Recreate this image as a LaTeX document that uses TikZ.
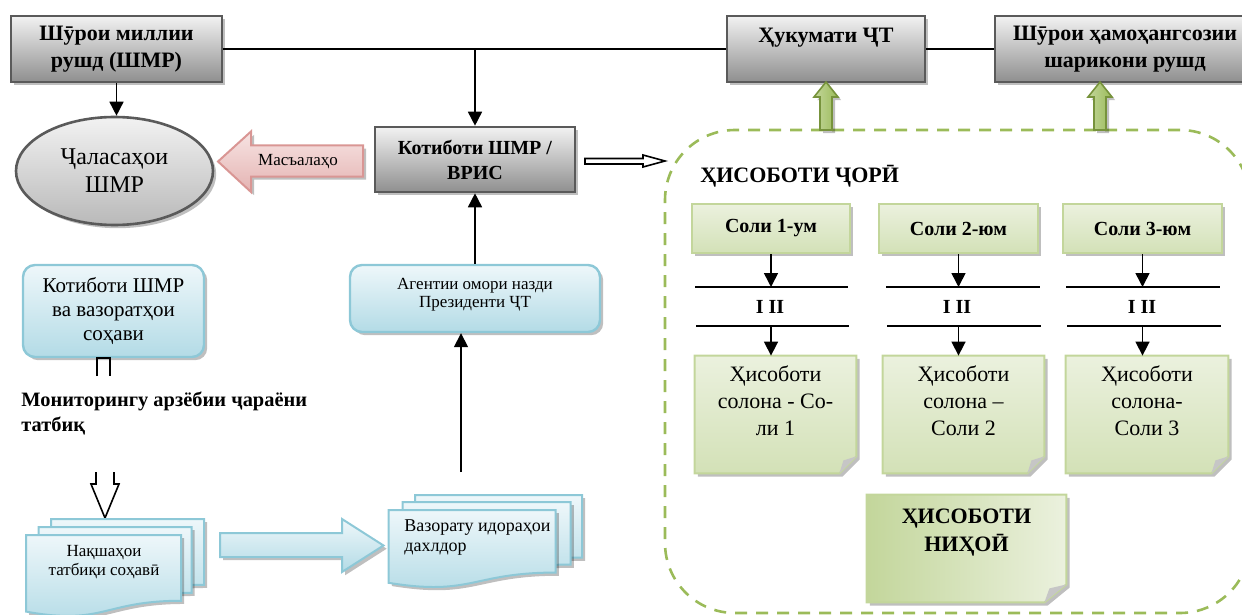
\documentclass[tikz,border=0pt]{standalone}
\usepackage{fontspec}
\setmainfont{Liberation Serif}
\usetikzlibrary{shapes.geometric,arrows.meta,shadows,backgrounds}
\definecolor{grLight}{HTML}{F2F2F2}
\definecolor{grDark}{HTML}{8F8F8F}
\definecolor{grLine}{HTML}{5A5A5A}
\definecolor{bLight}{HTML}{EEF7FA}
\definecolor{bMid}{HTML}{B3DBE6}
\definecolor{bLine}{HTML}{8DC8D7}
\definecolor{pLight}{HTML}{F7E4E3}
\definecolor{pMid}{HTML}{E4B3B2}
\definecolor{pLine}{HTML}{D99694}
\definecolor{gLight}{HTML}{EBF1DE}
\definecolor{gMid}{HTML}{D3E1B7}
\definecolor{gDark}{HTML}{C3D69B}
\definecolor{gLine}{HTML}{9BBB59}
\definecolor{gDeep}{HTML}{77933C}
\tikzset{
  pw/.style={minimum width=#1*0.5pt},
  ph/.style={minimum height=#1*0.5pt},
  shd/.style={drop shadow={shadow xshift=1.6pt,shadow yshift=-1.6pt,fill=black,opacity=0.25}},
  greybox/.style={rectangle,draw=grLine,line width=1.3pt,top color=grLight,bottom color=grDark,shd,inner sep=0pt,align=center,font=\fontsize{11}{13.5}\selectfont\bfseries},
  bluebox/.style={rectangle,rounded corners=6pt,draw=bLine,line width=1.2pt,top color=bLight,bottom color=bMid,shd,inner sep=0pt,align=center},
  solibox/.style={rectangle,draw=gDark,line width=1pt,top color=gLight,bottom color=gMid,shd,inner sep=0pt,font=\fontsize{10}{12}\selectfont\bfseries},
  notebox/.style={rectangle,inner sep=0pt,align=center,font=\fontsize{11}{13.5}\selectfont},
  notefill/.style={draw=gDark,line width=1pt,top color=gLight,bottom color=gMid,shd},
  conn/.style={line width=0.8pt,-{Triangle[length=7pt,width=7pt]}},
  plainline/.style={line width=0.8pt},
  docfill/.style={draw=bLine,line width=1pt,top color=bLight,bottom color=bMid,shd},
  blockblue/.style={draw=bLine,line width=1pt,top color=bLight,bottom color=bMid,shd},
  blockpink/.style={draw=pLine,line width=1pt,top color=pLight,bottom color=pMid,shd},
  blockgreen/.style={draw=gDeep,line width=0.8pt,left color=gDark,right color=gLine,shd},
  hollow/.style={line width=0.8pt,draw=black,fill=white},
}
\newcommand\docsheet[4]{\draw[docfill] (#1,#2) -- ({#1+#3},#2) -- ({#1+#3},{#2+0.802*#4}) .. controls ({#1+0.5*#3},{#2+0.802*#4}) and ({#1+0.5*#3},{#2+1.1075*#4}) .. (#1,{#2+0.934*#4}) -- cycle;}
\newcommand\greenup[1]{\draw[blockgreen] ({#1-6},130) -- ({#1-6},97) -- ({#1-12},97) -- (#1,82) -- ({#1+12},97) -- ({#1+6},97) -- ({#1+6},130) -- cycle;}
\begin{document}
\begin{tikzpicture}[x=0.5pt,y=-0.5pt]
\useasboundingbox (0,0) rectangle (1242,615);
\clip (0,0) rectangle (1242,615);

% dashed region
\node[draw=gLine,line width=1.3pt,dash pattern=on 6pt off 4.5pt,rounded corners=35pt,pw=585,ph=483,inner sep=0pt] (region) at (957.5,371.5) {};

% top row
\node[greybox,pw=211,ph=66] (shmr) at (116.5,49) {Шӯрои миллии\\рушд (ШМР)};
\node[greybox,pw=198,ph=66] (hukumat) at (826,49) {Ҳукумати ҶТ\\\mbox{}};
\node[greybox,pw=260,ph=66] (shuro) at (1125,49) {Шӯрои ҳамоҳангсозии\\шарикони рушд};
\draw[plainline] (shmr.east) -- (hukumat.west);
\draw[plainline] (hukumat.east) -- (shuro.west);

% green up arrows
\greenup{826}
\greenup{1100}

% ellipse
\node[ellipse,draw=grLine,line width=1.3pt,top color=grLight,bottom color=gray!55,shd,pw=197,ph=108,inner sep=0pt,align=center,font=\fontsize{12}{14}\selectfont] (jalasa) at (114.5,171) {Ҷаласаҳои\\ШМР};
\draw[conn] (shmr.south) -- (shmr.south |- jalasa.north);

% kotibot
\node[greybox,pw=200,ph=65,font=\fontsize{10}{12.5}\selectfont\bfseries] (kotibot) at (475,159.5) {Котиботи ШМР /\\ВРИС};
\coordinate (jn) at (kotibot.north |- shmr.east);
\draw[conn] (jn) -- (kotibot.north);

% pink arrow
\draw[blockpink] (218,161.5) -- (251,131.5) -- (251,145.5) -- (363,145.5) -- (363,176.5) -- (251,176.5) -- (251,192) -- cycle;
\node[font=\fontsize{8.5}{10}\selectfont,inner sep=0pt] (masala) at (298,162) {Масъалаҳо};

% open arrow to region
\draw[hollow] (585,158.5) -- (643,158.5) -- (643,155) -- (665,161) -- (643,167) -- (643,164) -- (585,164) -- cycle;

% agentii
\node[bluebox,pw=250,ph=67,font=\fontsize{8.5}{9}\selectfont] (agentii) at (475,298.5) {Агентии омори назди\\Президенти ҶТ\\[-3pt]\mbox{}};
\draw[conn] (agentii.north) -- (kotibot.south);

% kotibot2
\node[bluebox,pw=181,ph=92,font=\fontsize{10.5}{12}\selectfont] (kotibot2) at (113.5,311) {Котиботи ШМР\\ва вазоратҳои\\соҳави};
\draw[plainline] (97,376) -- (97,358) -- (110,358) -- (110,376);

\node[anchor=north west,align=left,inner sep=0pt,font=\fontsize{10.2}{12.5}\selectfont\bfseries] (monitor) at (21,391) {Мониторингу арзёбии ҷараёни\\татбиқ};

\draw[hollow] (96,472) -- (96,484) -- (91,484) -- (105,518) -- (119,484) -- (114,484) -- (114,472);

% document stacks
\docsheet{51}{519}{153}{82}
\docsheet{38.5}{527}{153}{82}
\docsheet{26}{535}{155}{82}
\node[inner sep=0pt,align=center,font=\fontsize{8.5}{9.5}\selectfont] (naqsha) at (104,562) {Нақшаҳои\\татбиқи соҳавӣ};

\docsheet{415}{495}{167}{78}
\docsheet{402.6}{502}{168}{78}
\docsheet{388.7}{510}{167}{78}
\node[anchor=north west,inner sep=0pt,align=left,font=\fontsize{9}{10}\selectfont] (vazorat) at (404,519) {Вазорату идораҳои\\дахлдор};

\draw[blockblue] (220,533) -- (342,533) -- (342,519) -- (383.5,545.5) -- (342,572) -- (342,557) -- (220,557) -- cycle;

\coordinate (vt) at (461,472);
\draw[conn] (vt) -- (vt |- agentii.south);

% right region contents
\node[anchor=base west,inner sep=0pt,font=\fontsize{11}{13}\selectfont\bfseries] (jori) at (700,183) {ҲИСОБОТИ ҶОРӢ};

\node[solibox,pw=158,ph=49] (s1) at (771,228.5) {Соли 1-ум};
\node[solibox,pw=159,ph=49] (s2) at (958.5,228.5) {Соли 2-юм};
\node[solibox,pw=159,ph=49] (s3) at (1142.5,228.5) {Соли 3-юм};

\node[notebox,pw=161,ph=117] (h1) at (775.5,414.5) {Ҳисоботи\\солона - Со-\\ли 1\\\mbox{}};
\node[notebox,pw=161,ph=117] (h2) at (963.5,414.5) {Ҳисоботи\\солона –\\Соли 2\\\mbox{}};
\node[notebox,pw=162,ph=117] (h3) at (1147,414.5) {Ҳисоботи\\солона-\\Соли 3\\\mbox{}};
\node[notebox,pw=199,ph=107,font=\fontsize{11}{14}\selectfont\bfseries] (nihoi) at (966.5,548.5) {ҲИСОБОТИ\\НИҲОӢ\\[4pt]\mbox{}};

\begin{scope}[on background layer]
\foreach \n in {h1,h2,h3} {
  \draw[notefill] (\n.north west) -- (\n.north east) -- ([yshift=8.5pt]\n.south east) -- ([xshift=-8.5pt]\n.south east) -- (\n.south west) -- cycle;
  \fill[gray!45] ([yshift=8.5pt]\n.south east) -- ([xshift=-8.5pt]\n.south east) -- ([xshift=-6.5pt,yshift=6.5pt]\n.south east) -- cycle;
}
\draw[draw=gDark,line width=1pt,left color=gDark,right color=gLight,shd] (nihoi.north west) -- (nihoi.north east) -- ([yshift=9pt]nihoi.south east) -- ([xshift=-11pt]nihoi.south east) -- (nihoi.south west) -- cycle;
\fill[gray!45] ([yshift=9pt]nihoi.south east) -- ([xshift=-11pt]nihoi.south east) -- ([xshift=-8.5pt,yshift=7pt]nihoi.south east) -- cycle;
\end{scope}

% I II separators
\foreach \s/\h/\a/\b in {s1/h1/695/848, s2/h2/886/1040, s3/h3/1066/1220} {
  \coordinate (\s la) at (\a,287);
  \coordinate (\s lb) at (\b,287);
  \coordinate (\s ma) at ({\a+1},326);
  \coordinate (\s mb) at ({\b+1},326);
  \draw[plainline] (\s la) -- (\s lb);
  \draw[plainline] (\s ma) -- (\s mb);
  \draw[conn] (\s.south) -- (\s.south |- \s la);
  \draw[conn] (\s.south |- \s ma) -- (\s.south |- \h.north);
}
\node[font=\fontsize{10}{12}\selectfont\bfseries,inner sep=0pt] (r1) at (770,307) {I II};
\node[font=\fontsize{10}{12}\selectfont\bfseries,inner sep=0pt] (r2) at (957,307) {I II};
\node[font=\fontsize{10}{12}\selectfont\bfseries,inner sep=0pt] (r3) at (1142,307) {I II};
\end{tikzpicture}
\end{document}
